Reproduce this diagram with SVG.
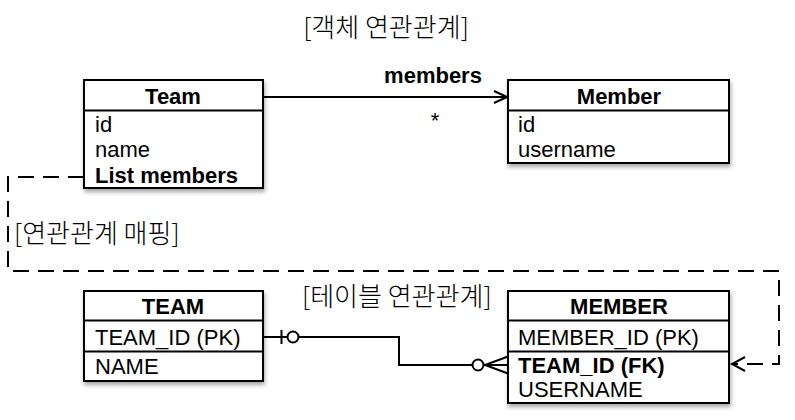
<svg xmlns="http://www.w3.org/2000/svg" width="795" height="420" viewBox="0 0 795 420">
<defs>
<style>
.t{font-family:"Liberation Sans","Noto Sans CJK KR",Arial,sans-serif;font-size:22px;fill:#000}
.b{font-weight:bold}
.k{font-family:"Noto Sans CJK KR","Liberation Sans",sans-serif;font-size:26px;fill:#000;font-weight:300}
.box{fill:#fff;stroke:#000;stroke-width:2}
.div{stroke:#000;stroke-width:2}
.ln{fill:none;stroke:#000;stroke-width:2}
.dash{fill:none;stroke:#000;stroke-width:2;stroke-dasharray:16 9}
</style>
<filter id="sh" x="-10%" y="-10%" width="130%" height="140%">
<feDropShadow dx="1" dy="3" stdDeviation="2" flood-color="#000" flood-opacity="0.35"/>
</filter>
<marker id="open" markerWidth="16" markerHeight="14" refX="14" refY="7" orient="auto" markerUnits="userSpaceOnUse">
<path d="M1,1 L14,7 L1,13" fill="none" stroke="#000" stroke-width="2"/>
</marker>
</defs>
<rect width="795" height="420" fill="#fff"/>
<text class="k" x="386" y="37" text-anchor="middle">[객체 연관관계]</text>
<text class="k" x="14" y="243">[연관관계 매핑]</text>
<text class="k" x="302" y="306">[테이블 연관관계]</text>

<g id="connectors">
<line class="ln" x1="263" y1="97" x2="507" y2="97" marker-end="url(#open)"/>
<text class="t b" x="433" y="83" text-anchor="middle">members</text>
<text class="t" x="435" y="128" text-anchor="middle">*</text>
<path class="dash" d="M84,177 H8 V271 H779 V364 H732"/>
<path class="ln" d="M745,357 L732,364 L745,371"/>
<path class="ln" d="M263,337 H287"/>
<line class="ln" x1="281.5" y1="330" x2="281.5" y2="344"/>
<circle cx="293" cy="337" r="5.5" fill="#fff" stroke="#000" stroke-width="2"/>
<path class="ln" d="M298.5,337 H399 V365 H472.5"/>
<circle cx="478" cy="365" r="5.5" fill="#fff" stroke="#000" stroke-width="2"/>
<path class="ln" d="M483.5,365 H508 M508,356.5 L485,365 L508,373.5"/>
</g>

<g id="team">
<rect class="box" x="84" y="80" width="179" height="108" filter="url(#sh)"/>
<line class="div" x1="84" y1="110.5" x2="263" y2="110.5"/>
<text class="t b" x="173" y="104" text-anchor="middle">Team</text>
<text class="t" x="95" y="132">id</text>
<text class="t" x="95" y="157">name</text>
<text class="t b" x="95" y="183">List members</text>
</g>

<g id="member">
<rect class="box" x="508" y="80" width="221" height="83" filter="url(#sh)"/>
<line class="div" x1="508" y1="110.5" x2="729" y2="110.5"/>
<text class="t b" x="619" y="104" text-anchor="middle">Member</text>
<text class="t" x="518" y="132">id</text>
<text class="t" x="518" y="157">username</text>
</g>

<g id="TEAM">
<rect class="box" x="84" y="291" width="179" height="90" filter="url(#sh)"/>
<line class="div" x1="84" y1="320.5" x2="263" y2="320.5"/>
<line class="div" x1="84" y1="351.5" x2="263" y2="351.5"/>
<text class="t b" x="173" y="314" text-anchor="middle">TEAM</text>
<text class="t" x="95" y="345">TEAM_ID (PK)</text>
<text class="t" x="95" y="374">NAME</text>
</g>

<g id="MEMBER">
<rect class="box" x="508" y="291" width="221" height="112" filter="url(#sh)"/>
<line class="div" x1="508" y1="320.5" x2="729" y2="320.5"/>
<line class="div" x1="508" y1="351.5" x2="729" y2="351.5"/>
<text class="t b" x="619" y="314" text-anchor="middle">MEMBER</text>
<text class="t" x="518" y="345">MEMBER_ID (PK)</text>
<text class="t b" x="518" y="373">TEAM_ID (FK)</text>
<text class="t" x="518" y="397">USERNAME</text>
</g>
</svg>
